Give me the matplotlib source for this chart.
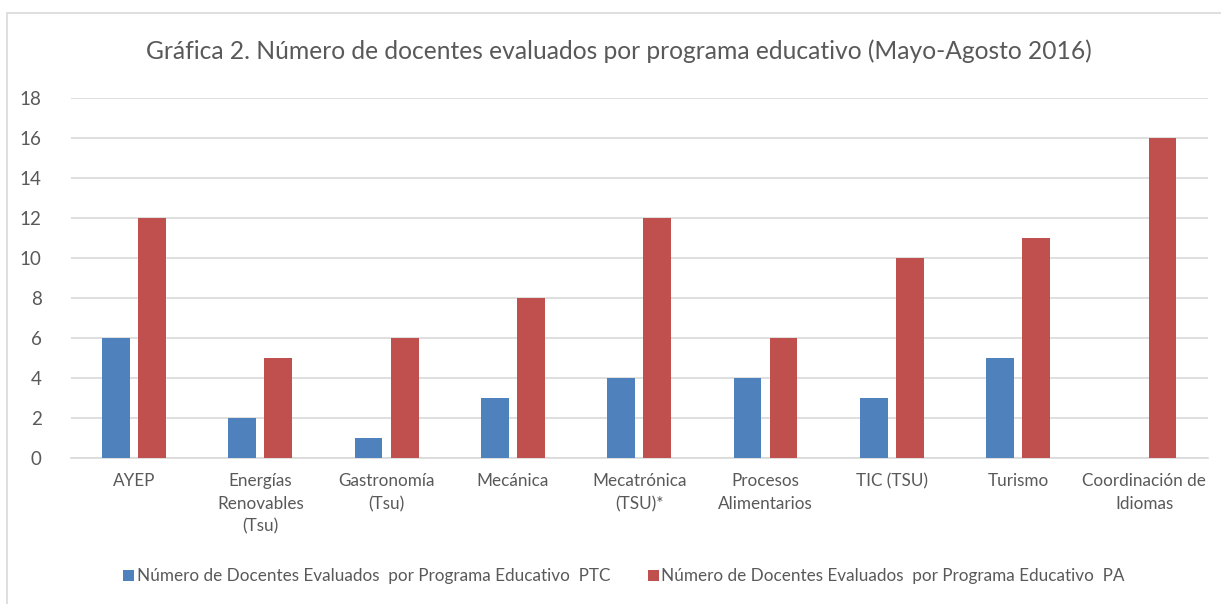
import numpy as np
import matplotlib.pyplot as plt
from matplotlib.patches import Rectangle

plt.rcParams['font.family'] = ['Lato', 'DejaVu Sans']

programs = ['AYEP', 'Energías\nRenovables\n(Tsu)', 'Gastronomía\n(Tsu)', 'Mecánica',
            'Mecatrónica\n(TSU)*', 'Procesos\nAlimentarios', 'TIC (TSU)', 'Turismo',
            'Coordinación de\nIdiomas']
ptc = [6, 2, 1, 3, 4, 4, 3, 5, 0]
pa = [12, 5, 6, 8, 12, 6, 10, 11, 16]
series_labels = ['Número de Docentes Evaluados  por Programa Educativo  PTC',
                 'Número de Docentes Evaluados  por Programa Educativo  PA']
title = 'Gráfica 2. Número de docentes evaluados por programa educativo (Mayo-Agosto 2016)'

text_color = '#595959'
grid_color = '#d9d9d9'

fig = plt.figure(figsize=(12.21, 6.04), dpi=100)
ax = fig.add_axes([0.058, 0.2417, 0.931, 0.596])

x = np.arange(len(programs))
w = 0.22
off = 0.143
ax.bar(x - off, ptc, w, color='#4F81BD', label=series_labels[0], zorder=3)
ax.bar(x + off, pa, w, color='#C0504D', label=series_labels[1], zorder=3)

ax.set_xlim(-0.5, len(programs) - 0.5)
ax.set_ylim(0, 18)
ax.set_yticks(range(0, 19, 2))
ax.yaxis.grid(True, color=grid_color, linewidth=1.2, zorder=0)
for s in ['top', 'right', 'left']:
    ax.spines[s].set_visible(False)
ax.spines['bottom'].set_color(grid_color)
ax.spines['bottom'].set_linewidth(1.2)
ax.tick_params(axis='both', length=0, colors=text_color)
ax.tick_params(axis='y', labelsize=13.5, pad=21)
ax.set_xticks(x)
ax.set_xticklabels(programs, fontsize=12.3, linespacing=1.5)
ax.tick_params(axis='x', pad=11)

fig.text(0.507, 0.915, title, ha='center', va='center', fontsize=17.7, color=text_color)

leg = fig.legend(loc='center', bbox_to_anchor=(0.511, 0.046), ncol=2, frameon=False,
                 fontsize=12.3, handlelength=0.65, handleheight=0.65, handletextpad=0.15,
                 columnspacing=2.2, labelcolor=text_color)

fig.patches.append(Rectangle((7 / 1221, -0.01), 1.1, 1 - 13 / 604 + 0.01,
                             transform=fig.transFigure, fill=False,
                             edgecolor='#d9d9d9', linewidth=1.2))

fig.savefig('out.png', dpi=100)
